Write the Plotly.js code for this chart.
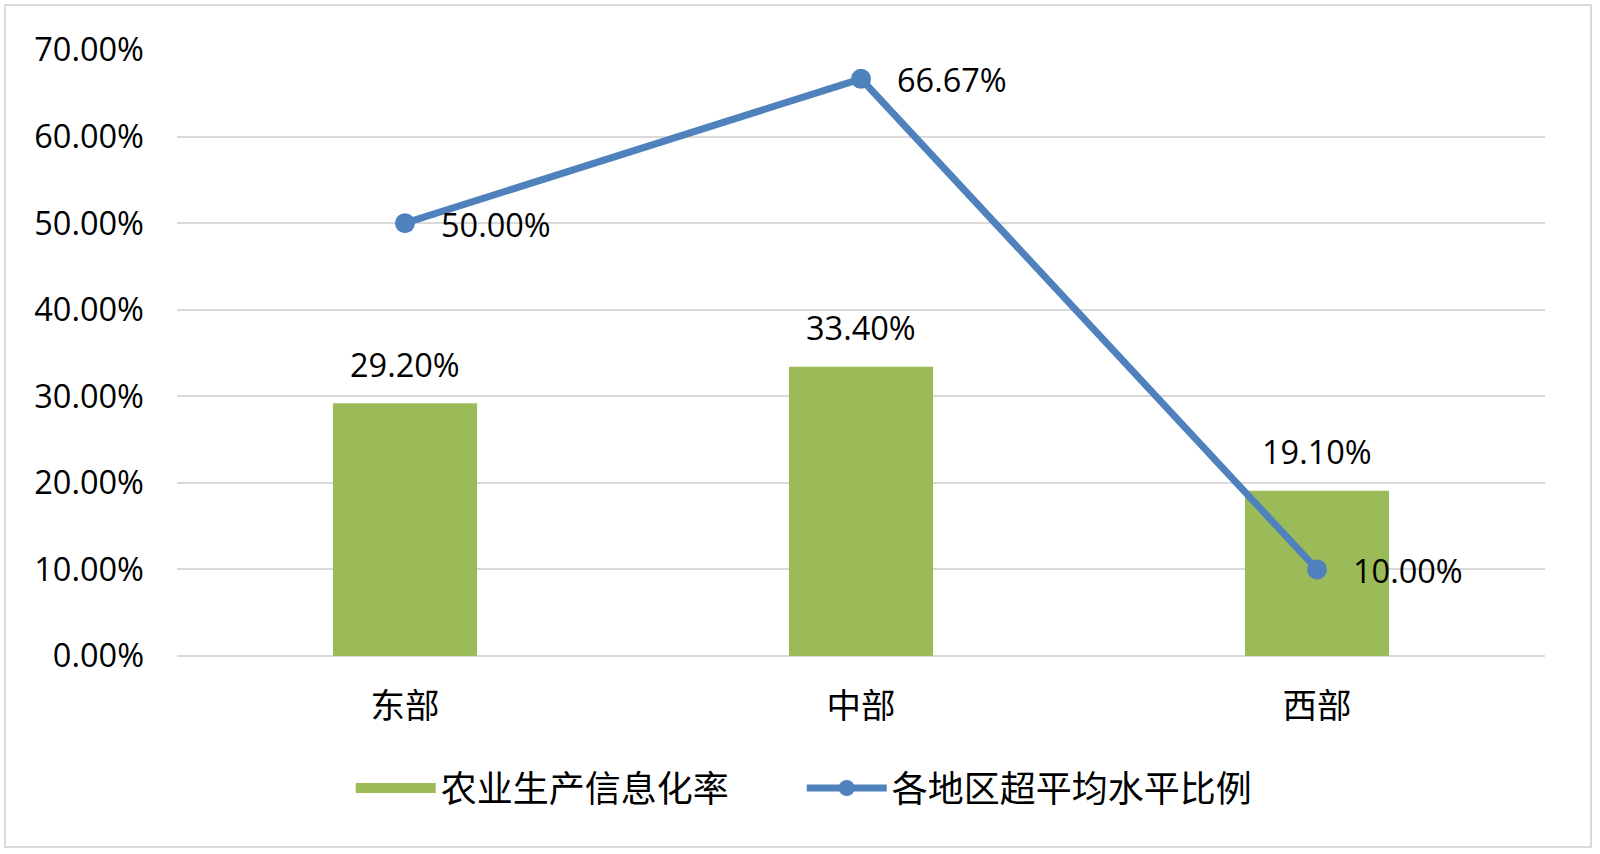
<!DOCTYPE html>
<html>
<head>
<meta charset="utf-8">
<script src="https://cdn.plot.ly/plotly-3.0.1.min.js"></script>
<style>
  html, body { margin: 0; padding: 0; background: #fff; }
  #chart { position: absolute; left: 0; top: 0; width: 1600px; height: 854px; }
  #frame { position: absolute; left: 4px; top: 4px; width: 1584px; height: 840px;
           border: 2px solid #d9d9d9; pointer-events: none; }
</style>
</head>
<body>
<div id="chart"></div>
<div id="frame"></div>
<script>
const categories = ['东部', '中部', '西部'];
const infoRate = [0.292, 0.334, 0.191];
const aboveAvgRatio = [0.50, 0.6667, 0.10];
const infoRateLabels = ['29.20%', '33.40%', '19.10%'];
const ratioLabels = ['50.00%', '66.67%', '10.00%'];
const seriesNames = ['农业生产信息化率', '各地区超平均水平比例'];

const numFont = 'Open Sans, Noto Sans CJK SC, sans-serif';
const cjkFont = 'Noto Sans CJK SC, sans-serif';
const barColor = '#9BBB59';
const lineColor = '#4F81BD';

const traces = [
  {
    type: 'bar', name: seriesNames[0], x: categories, y: infoRate, showlegend: false,
    legendgroup: 'g1', width: 0.316, marker: { color: barColor }, hoverinfo: 'none'
  },
  // legend entry for the bar series (wide swatch like the original)
  {
    type: 'scatter', mode: 'lines', name: seriesNames[0], x: [null], y: [null],
    legendgroup: 'g1', line: { color: barColor, width: 19 }, hoverinfo: 'none'
  },
  {
    type: 'scatter', mode: 'lines+markers', name: seriesNames[1], x: categories, y: aboveAvgRatio,
    line: { color: lineColor, width: 7 }, marker: { color: lineColor, size: 20 }, hoverinfo: 'none'
  }
];

const annotations = [];
categories.forEach((c, i) => {
  annotations.push({
    x: c, y: infoRate[i], xref: 'x', yref: 'y', text: infoRateLabels[i],
    showarrow: false, xanchor: 'center', yanchor: 'middle', yshift: 39,
    font: { family: numFont, size: 32.5, color: '#000' }
  });
  annotations.push({
    x: c, y: aboveAvgRatio[i], xref: 'x', yref: 'y', text: ratioLabels[i],
    showarrow: false, xanchor: 'left', yanchor: 'middle', xshift: 34, yshift: -1,
    font: { family: numFont, size: 32.5, color: '#000' }
  });
});

const layout = {
  width: 1600, height: 854,
  margin: { l: 177, r: 55, t: 50, b: 198 },
  paper_bgcolor: '#fff', plot_bgcolor: '#fff',
  showlegend: true,
  legend: {
    orientation: 'h', x: 0.127, xanchor: 'left', y: -0.218, yanchor: 'middle',
    font: { family: cjkFont, size: 36, color: '#000' }, itemwidth: 80,
    entrywidth: 356, traceorder: 'normal'
  },
  xaxis: {
    type: 'category', showgrid: false, zeroline: false, showline: false,
    tickfont: { family: cjkFont, size: 34.5, color: '#000' }, ticks: '', ticklabelstandoff: 26
  },
  yaxis: {
    range: [0, 0.7], dtick: 0.1, tick0: 0, tickformat: '.2%',
    showgrid: true, gridcolor: '#d9d9d9', gridwidth: 2,
    zeroline: true, zerolinecolor: '#d9d9d9', zerolinewidth: 2, showline: false,
    tickfont: { family: numFont, size: 32.5, color: '#000' }, ticks: '', ticklabelstandoff: 32
  },
  annotations: annotations
};

Plotly.newPlot('chart', traces, layout, { displayModeBar: false, staticPlot: true });
</script>
</body>
</html>
